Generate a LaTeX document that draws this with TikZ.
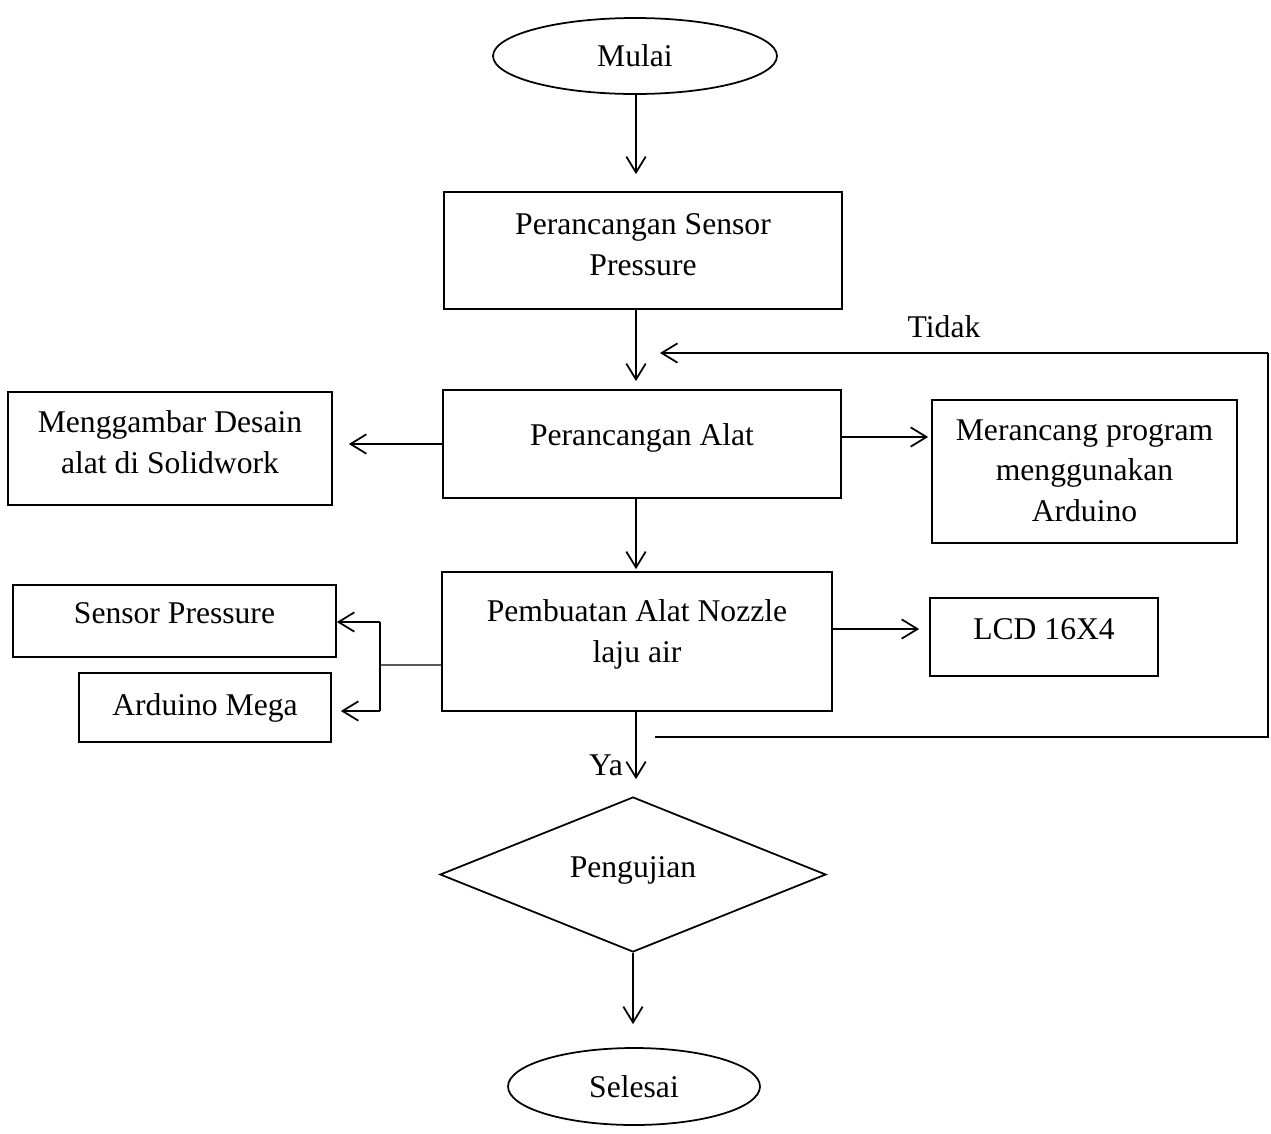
\documentclass[tikz,border=0pt]{standalone}
\usepackage{fontspec}
\setmainfont{Liberation Serif}
\usetikzlibrary{shapes.geometric,arrows.meta}
\begin{document}
\begin{tikzpicture}[x=0.02cm,y=-0.02cm,
 box/.style={draw,line width=1pt,rectangle,inner sep=0pt},
 oval/.style={draw,line width=1pt,ellipse,inner sep=0pt},
 dia/.style={draw,line width=1pt,diamond,inner sep=0pt},
 txt/.style={align=center,inner sep=0pt},
 arr/.style={line width=1pt,-{Straight Barb[length=9pt,width=11pt,line width=1pt]}},
 thinline/.style={line width=0.7pt},
 font=\fontsize{18}{23}\selectfont]
\useasboundingbox (0,0) rectangle (1271,1133);
\coordinate (axis) at (636,0);
\node[oval,minimum width=5.68cm,minimum height=1.52cm] (m) at (635,56) {Mulai};
\node[box,minimum width=7.96cm,minimum height=2.34cm] (b1) at (643,250.5) {};
\node[txt] (b1t) at (643,244.5) {Perancangan Sensor\\Pressure};
\node[box,minimum width=7.96cm,minimum height=2.16cm] (b2) at (642,444) {};
\node[txt] (b2t) at (642,438) {Perancangan Alat};
\node[box,minimum width=6.48cm,minimum height=2.26cm] (lf) at (170,448.5) {};
\node[txt] (lft) at (170,442) {Menggambar Desain\\alat di Solidwork};
\node[box,minimum width=6.1cm,minimum height=2.86cm] (rt) at (1084.5,471.5) {};
\node[txt] (rtt) at (1084.5,470.5) {Merancang program\\menggunakan\\Arduino};
\node[box,minimum width=7.8cm,minimum height=2.78cm] (b3) at (637,641.5) {};
\node[txt] (b3t) at (637,634.5) {Pembuatan Alat Nozzle\\laju air};
\node[box,minimum width=4.56cm,minimum height=1.56cm] (lcd) at (1044,637) {};
\node[txt] (lcdt) at (1044,629) {LCD 16X4};
\node[box,minimum width=6.46cm,minimum height=1.44cm] (sp) at (174.5,621) {};
\node[txt] (spt) at (174.5,613) {Sensor Pressure};
\node[box,minimum width=5.04cm,minimum height=1.38cm] (am) at (205,707.5) {};
\node[txt] (amt) at (205,708) {Arduino Mega};
\node[dia,minimum width=7.72cm,minimum height=3.1cm] (dg) at (633,874.5) {};
\node[txt] (dgt) at (633,870.5) {Pengujian};
\node[oval,minimum width=5.04cm,minimum height=1.54cm] (s) at (634,1086.5) {Selesai};
\node (tidak) at (944,327) {Tidak};
\node (ya) at (606,765) {Ya};
% main flow
\draw[arr,shorten >=0.34cm] (axis |- m.south) -- (axis |- b1.north);
\draw[arr,shorten >=0.16cm] (axis |- b1.south) -- (axis |- b2.north);
\draw[arr,shorten >=0.04cm] (axis |- b2.south) -- (axis |- b3.north);
\draw[arr,shorten >=0.34cm] (axis |- b3.south) -- (axis |- dg.north);
\draw[arr,shorten >=0.46cm] (dg.south) -- (dg.south |- s.north);
% side arrows
\draw[arr,shorten >=0.32cm] (b2.west) -- (b2.west -| lf.east);
\draw[arr,shorten >=0.06cm] ([yshift=0.14cm]b2.east) -- ([yshift=0.14cm]b2.east -| rt.west);
\draw[arr,shorten >=0.2cm] ([yshift=0.25cm]b3.east) -- ([yshift=0.25cm]b3.east -| lcd.west);
% left branch
\coordinate (jn) at (380,665);
\coordinate (jt) at (380,622);
\coordinate (jb) at (380,711);
\draw[thinline] ([yshift=-0.47cm]b3.west) -- (jn);
\draw[thinline] (jt) -- (jb);
\draw[arr] (jt) -- (jt -| sp.east);
\draw[arr,shorten >=0.18cm] (jb) -- (jb -| am.east);
% feedback loop
\coordinate (fa) at (655,737);
\coordinate (fb) at (1268,737);
\coordinate (fc) at (1268,353);
\coordinate (fd) at (660,353);
\draw[thinline] (fa) -- (fb) -- (fc);
\draw[arr] (fc) -- (fd);
\end{tikzpicture}
\end{document}
